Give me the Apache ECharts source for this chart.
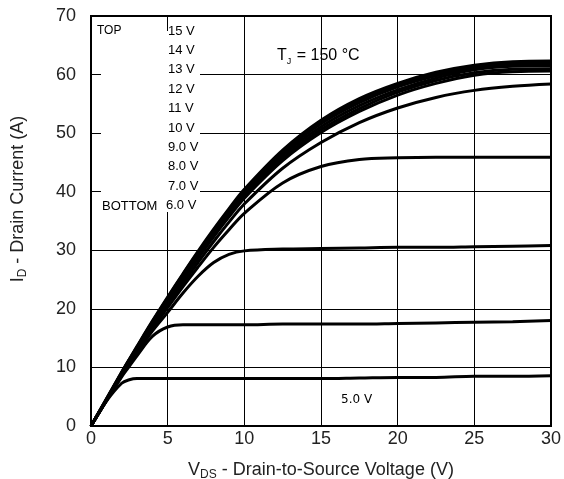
<!DOCTYPE html>
<html>
<head>
<meta charset="utf-8">
<script src="https://cdn.jsdelivr.net/npm/echarts@6/dist/echarts.min.js"></script>
<style>
  html, body { margin: 0; padding: 0; background: #fff; }
  #chart { width: 564px; height: 479px; }
</style>
</head>
<body>
<div id="chart"></div>
<script>
// V_DS sample points (V)
const vds = [0, 1, 2, 2.5, 3, 4, 5, 6, 7, 8, 9, 10, 12.5, 15, 17.5, 20, 22.5, 25, 27.5, 30]

// I_D (A) for each V_GS
const id5 = [0, 4.2, 7.3, 7.9, 8.1, 8.1, 8.1, 8.1, 8.1, 8.1, 8.1, 8.1, 8.1, 8.1, 8.2, 8.3, 8.3, 8.5, 8.5, 8.6]
const id6 = [0, 4.3, 8.4, 10.2, 12.0, 15.3, 16.9, 17.3, 17.3, 17.3, 17.3, 17.3, 17.4, 17.4, 17.4, 17.5, 17.6, 17.7, 17.8, 18.0]
const id7 = [0, 4.3, 8.6, 10.6, 12.5, 16.2, 19.4, 22.7, 25.6, 27.9, 29.3, 29.9, 30.2, 30.3, 30.4, 30.5, 30.5, 30.6, 30.7, 30.8]
const id8 = [0, 4.3, 8.6, 10.7, 12.7, 16.6, 20.2, 23.8, 27.2, 30.5, 33.5, 36.3, 41.5, 44.3, 45.5, 45.8, 45.9, 45.9, 45.9, 45.9]
const id9 = [0, 4.35, 8.7, 10.8, 12.9, 16.9, 20.7, 24.4, 28.0, 31.5, 34.8, 37.9, 44.0, 48.4, 51.8, 54.3, 56.1, 57.3, 58.0, 58.4]
const id10 = [0, 4.4, 8.8, 11.0, 13.1, 17.2, 21.1, 25.0, 28.7, 32.3, 35.7, 38.9, 45.3, 50.1, 53.7, 56.5, 58.5, 59.9, 60.5, 60.6]
const id11 = [0, 4.45, 8.9, 11.1, 13.2, 17.4, 21.3, 25.2, 29.0, 32.6, 36.0, 39.2, 45.7, 50.6, 54.2, 57.0, 59.0, 60.3, 60.9, 61.0]
const id12 = [0, 4.5, 9.0, 11.2, 13.3, 17.5, 21.5, 25.5, 29.3, 32.9, 36.4, 39.6, 46.2, 51.1, 54.7, 57.4, 59.4, 60.8, 61.4, 61.5]
const id13 = [0, 4.5, 9.1, 11.3, 13.4, 17.7, 21.7, 25.7, 29.5, 33.2, 36.7, 39.9, 46.6, 51.6, 55.2, 57.9, 59.8, 61.1, 61.8, 61.9]
const id14 = [0, 4.55, 9.15, 11.35, 13.5, 17.8, 21.9, 25.9, 29.7, 33.4, 36.9, 40.2, 46.9, 51.9, 55.6, 58.2, 60.1, 61.4, 62.0, 62.1]
const id15 = [0, 4.6, 9.2, 11.4, 13.6, 17.9, 22.0, 26.0, 29.9, 33.6, 37.1, 40.4, 47.1, 52.2, 55.9, 58.5, 60.4, 61.6, 62.2, 62.3]

const curveNames = ['5.0 V', '6.0 V', '7.0 V', '8.0 V', '9.0 V', '10 V', '11 V', '12 V', '13 V', '14 V', '15 V']
const curveData = [id5, id6, id7, id8, id9, id10, id11, id12, id13, id14, id15]

// legend column (top to bottom)
const legendLabels = ['15 V', '14 V', '13 V', '12 V', '11 V', '10 V', '9.0 V', '8.0 V', '7.0 V', '6.0 V']

const font = 'Liberation Sans, Arial, Helvetica, sans-serif'

const chart = echarts.init(document.getElementById('chart'))

const series = curveData.map((ys, i) => ({
  name: curveNames[i],
  type: 'line',
  data: vds.map((v, k) => [v, ys[k]]),
  showSymbol: false,
  smooth: 0.35,
  lineStyle: { color: '#000', width: 3 },
  animation: false
}))

const graphics = [
  // white patch behind legend text
  { type: 'rect', left: 101, top: 31, z: 10, shape: { width: 99, height: 181 }, style: { fill: '#fff' } },
  { type: 'text', x: 97, y: 31, z: 11, style: { text: 'TOP', font: '12px ' + font, fill: '#000', verticalAlign: 'middle' } },
  { type: 'text', x: 102, y: 206, z: 11, style: { text: 'BOTTOM', font: '13px ' + font, fill: '#000', verticalAlign: 'middle' } },
  { type: 'text', x: 341, y: 400, z: 11, style: { text: '5.0 V', font: '12px DejaVu Sans, sans-serif', fill: '#000', verticalAlign: 'middle' } },
  {
    type: 'text', x: 277, y: 56, z: 11,
    style: {
      text: 'T{s|J} = 150 °C',
      font: '16px ' + font,
      fill: '#000',
      verticalAlign: 'middle',
      rich: { s: { fontSize: 9, fontFamily: font, padding: [11, 1, 0, 0] } }
    }
  }
]
legendLabels.forEach((t, i) => {
  graphics.push({
    type: 'text', x: i === 9 ? 166 : 168, y: 31 + i * 19.4, z: 11,
    style: { text: t, font: '13px ' + font, fill: '#000', verticalAlign: 'middle' }
  })
})

chart.setOption({
  animation: false,
  grid: {
    left: 91,
    right: 13,
    top: 16,
    bottom: 53,
    outerBoundsMode: 'none',
    show: true,
    borderColor: '#000',
    borderWidth: 2
  },
  xAxis: {
    type: 'value',
    min: 0,
    max: 30,
    interval: 5,
    name: 'V{s|DS} - Drain-to-Source Voltage (V)',
    nameLocation: 'middle',
    nameGap: 33,
    nameTextStyle: {
      fontFamily: font, fontSize: 18, color: '#222',
      rich: { s: { fontSize: 12, fontFamily: font, color: '#222', padding: [10, 0, 0, 0] } }
    },
    axisLine: { lineStyle: { color: '#000', width: 2 } },
    axisTick: { show: false },
    axisLabel: { fontFamily: font, fontSize: 18, color: '#222', margin: 4 },
    splitLine: { show: true, lineStyle: { color: '#000', width: 1 } }
  },
  yAxis: {
    type: 'value',
    min: 0,
    max: 70,
    interval: 10,
    name: 'I{s|D} - Drain Current (A)',
    nameLocation: 'middle',
    nameGap: 62,
    nameTextStyle: {
      fontFamily: font, fontSize: 18, color: '#222',
      padding: [0, 0, 0, 44],
      rich: { s: { fontSize: 12, fontFamily: font, color: '#222', padding: [10, 0, 0, 0] } }
    },
    axisLine: { show: true, lineStyle: { color: '#000', width: 2 } },
    axisTick: { show: false },
    axisLabel: { fontFamily: font, fontSize: 18, color: '#222', margin: 15 },
    splitLine: { show: true, lineStyle: { color: '#000', width: 1 } }
  },
  graphic: graphics,
  series: series
})
</script>
</body>
</html>
